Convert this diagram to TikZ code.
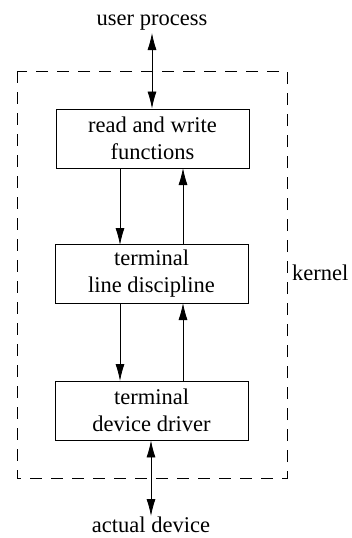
\documentclass[tikz,border=0pt]{standalone}
\usepackage{fontspec}
\setmainfont{Liberation Serif}
\usetikzlibrary{arrows.meta}
\begin{document}
\begin{tikzpicture}[x=1pt,y=-1pt,
  box/.style={draw, line width=0.9pt, minimum width=193pt, minimum height=59pt, align=center, inner sep=0pt},
  lbl/.style={inner sep=0pt, align=center},
  arr/.style={line width=0.8pt, -{Latex[length=17pt,width=9pt]}},
  darr/.style={line width=0.8pt, {Latex[length=17pt,width=9pt]}-{Latex[length=17pt,width=9pt]}},
  txt/.style={font=\fontsize{22.5}{27}\selectfont}]
\useasboundingbox (0,0) rectangle (351,538);
\draw[line width=0.9pt, dash pattern=on 12pt off 9pt] (17,71) rectangle (287,478);
\node[box, txt] (rw) at (152.5,138.5) {read and write\\functions};
\node[box, txt] (ld) at (151.5,274) {terminal\\line discipline};
\node[box, txt] (dd) at (151.5,410.5) {terminal\\device driver};
\node[lbl, txt, anchor=base] (up) at (152,25) {user process};
\node[lbl, txt, anchor=base] (ad) at (151,532) {actual device};
\node[lbl, txt, anchor=base west] (k) at (292,280) {kernel};
\coordinate (upb) at (152,33);
\coordinate (adt) at (151,516);
\draw[darr] (upb) -- (rw.north -| upb);
\draw[darr] (dd.south -| adt) -- (adt);
\draw[arr] (120,168) -- (120,245);
\draw[arr] (183,245) -- (183,168);
\draw[arr] (120,303) -- (120,381);
\draw[arr] (183,381) -- (183,303);
\end{tikzpicture}
\end{document}
